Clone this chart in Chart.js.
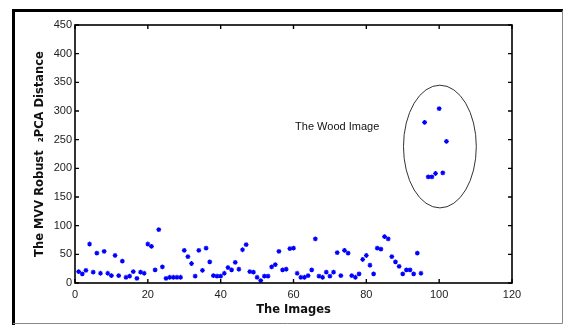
<!DOCTYPE html>
<html>
<head>
<meta charset="utf-8">
<script src="https://cdn.jsdelivr.net/npm/chart.js@4/dist/chart.umd.min.js"></script>
<style>
  html, body { margin: 0; padding: 0; background: #fff; }
  #wrap { width: 565px; height: 325px; position: relative; }
</style>
</head>
<body>
<div id="wrap"><canvas id="c" width="565" height="325"></canvas></div>
<script>
// ---- data ----
const images = [1,2,3,4,5,6,7,8,9,10,11,12,13,14,15,16,17,18,19,20,
  21,22,23,24,25,26,27,28,29,30,31,32,33,34,35,36,37,38,39,40,
  41,42,43,44,45,46,47,48,49,50,51,52,53,54,55,56,57,58,59,60,
  61,62,63,64,65,66,67,68,69,70,71,72,73,74,75,76,77,78,79,80,
  81,82,83,84,85,86,87,88,89,90,91,92,93,94,95,96,97,98,99,100,
  101,102];
const distances = [20,16,22,68,19,52,17,55,17,13,48,13,38,10,12,20,8,19,17,68,
  64,23,93,28,8,10,10,10,10,57,46,34,12,57,22,61,37,13,12,12,
  17,27,23,36,24,58,67,20,19,10,4,12,12,28,32,55,23,24,60,61,
  17,10,10,13,23,77,12,10,19,12,19,53,13,57,52,13,10,16,41,48,
  31,16,61,59,81,77,46,37,29,16,23,23,16,52,17,280,185,185,191,304,
  192,247];
const xTicks = [0,20,40,60,80,100,120];
const yTicks = [0,50,100,150,200,250,300,350,400,450];
const xTitle = "The Images";
const yTitle = "The MVV Robust  \u2082PCA Distance";
const noteText = "The Wood Image";
const notePos = [72, 272];
const ellipseCenter = [100.2, 238];
const ellipseRadii = [10, 107];

const points = images.map((x, i) => ({ x: x, y: distances[i] }));

const decor = {
  id: 'decor',
  afterDraw(chart) {
    const ctx = chart.ctx;
    const a = chart.chartArea;
    const xs = chart.scales.x, ys = chart.scales.y;
    ctx.save();
    // plot box
    ctx.strokeStyle = '#000';
    ctx.lineWidth = 1.6;
    ctx.strokeRect(a.left, a.top, a.right - a.left, a.bottom - a.top);
    // inward ticks
    ctx.lineWidth = 1.4;
    ctx.beginPath();
    xTicks.forEach(v => {
      const px = xs.getPixelForValue(v);
      ctx.moveTo(px, a.bottom); ctx.lineTo(px, a.bottom - 4);
      ctx.moveTo(px, a.top); ctx.lineTo(px, a.top + 4);
    });
    yTicks.forEach(v => {
      const py = ys.getPixelForValue(v);
      ctx.moveTo(a.left, py); ctx.lineTo(a.left + 4, py);
      ctx.moveTo(a.right, py); ctx.lineTo(a.right - 4, py);
    });
    ctx.stroke();
    // ellipse
    const cx = xs.getPixelForValue(ellipseCenter[0]);
    const cy = ys.getPixelForValue(ellipseCenter[1]);
    const rx = Math.abs(xs.getPixelForValue(ellipseCenter[0] + ellipseRadii[0]) - cx);
    const ry = Math.abs(ys.getPixelForValue(ellipseCenter[1] + ellipseRadii[1]) - cy);
    ctx.beginPath();
    ctx.ellipse(cx, cy, rx, ry, 0, 0, Math.PI * 2);
    ctx.strokeStyle = '#333';
    ctx.lineWidth = 1;
    ctx.stroke();
    // annotation text
    ctx.fillStyle = '#111';
    ctx.font = '11px "Liberation Sans", Arial, sans-serif';
    ctx.textAlign = 'center';
    ctx.textBaseline = 'middle';
    ctx.fillText(noteText, xs.getPixelForValue(notePos[0]), ys.getPixelForValue(notePos[1]));
    // outer frame
    ctx.strokeStyle = '#000';
    ctx.lineWidth = 3;
    ctx.beginPath();
    ctx.moveTo(13.5, 330); ctx.lineTo(13.5, 10.5); ctx.lineTo(563, 10.5);
    ctx.stroke();
    ctx.strokeStyle = '#888';
    ctx.lineWidth = 1;
    ctx.beginPath();
    ctx.moveTo(562.5, 10.5); ctx.lineTo(562.5, 323.5); ctx.lineTo(13, 323.5);
    ctx.stroke();
    ctx.restore();
  }
};

new Chart(document.getElementById('c'), {
  type: 'scatter',
  data: {
    datasets: [{
      data: points,
      pointStyle: 'star',
      radius: 2.4,
      hoverRadius: 2.4,
      borderWidth: 1.2,
      borderColor: '#0000ff',
      backgroundColor: '#0000ff'
    }]
  },
  options: {
    responsive: false,
    animation: false,
    devicePixelRatio: 1,
    layout: { padding: { left: 0, top: 25, right: 53, bottom: 0 } },
    plugins: { legend: { display: false }, tooltip: { enabled: false } },
    scales: {
      x: {
        type: 'linear', min: 0, max: 120,
        afterBuildTicks: s => { s.ticks = xTicks.map(v => ({ value: v })); },
        afterFit: s => { s.height = 42; },
        grid: { display: false, drawTicks: false },
        border: { display: false },
        ticks: { padding: 5, color: '#222', font: { family: '"Liberation Sans", Arial, sans-serif', size: 11 }, maxRotation: 0 },
        title: { display: true, text: xTitle, color: '#111',
          font: { family: '"DejaVu Sans", sans-serif', size: 11.5, weight: 'bold' },
          padding: { top: 0, bottom: 8 } }
      },
      y: {
        type: 'linear', min: 0, max: 450,
        afterBuildTicks: s => { s.ticks = yTicks.map(v => ({ value: v })); },
        afterFit: s => { s.width = 75; },
        grid: { display: false, drawTicks: false },
        border: { display: false },
        ticks: { padding: 3, color: '#222', font: { family: '"Liberation Sans", Arial, sans-serif', size: 11 } },
        title: { display: true, text: yTitle, color: '#111',
          font: { family: '"DejaVu Sans", sans-serif', size: 11.5, weight: 'bold' },
          padding: { top: 33, bottom: 0 } }
      }
    }
  },
  plugins: [decor]
});
</script>
</body>
</html>
